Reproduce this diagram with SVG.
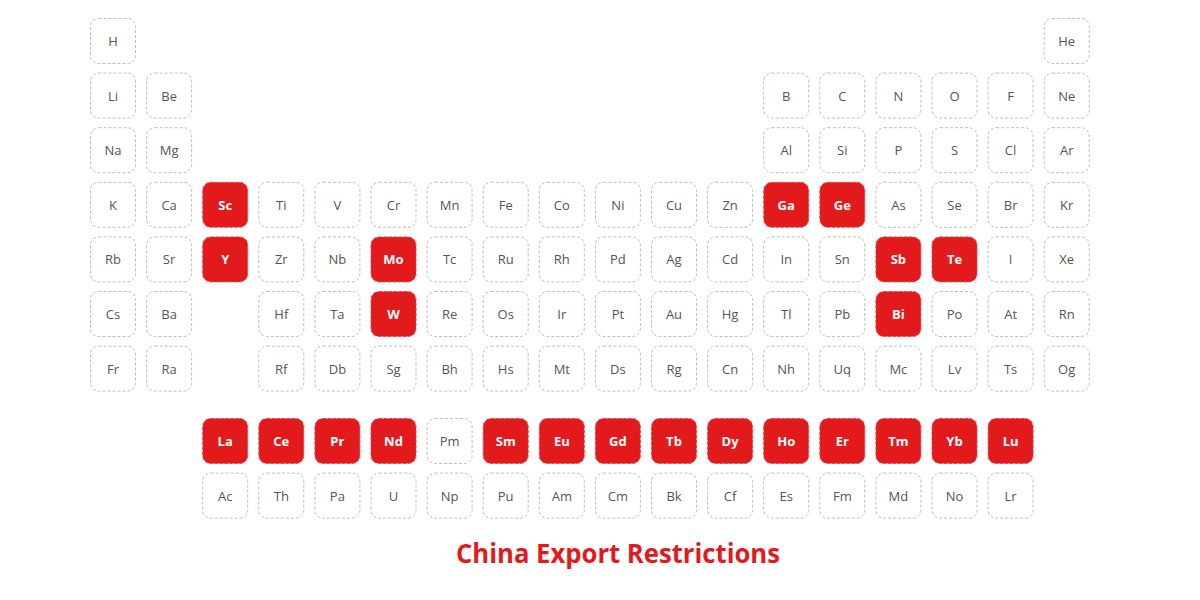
<svg xmlns="http://www.w3.org/2000/svg" width="1200" height="600" viewBox="0 0 1200 600">
<style>
.c{fill:#fff;stroke:#bdbdbd;stroke-width:1;stroke-dasharray:3 2}
.r{fill:#e31a1c;stroke:#e8474a;stroke-width:1;stroke-dasharray:3 2}
text{font-family:"Open Sans","Noto Sans","Liberation Sans",sans-serif;text-anchor:middle}
.t{font-size:13px;fill:#555}
.w{font-size:13px;fill:#fff;font-weight:bold}
.title{font-size:26px;fill:#e31a1c;font-weight:bold}
</style>
<rect width="1200" height="600" fill="#fff"/>
<g id="nodes">
<g id="H" transform="translate(90.5,18.5)"><rect class="c" width="45" height="45" rx="8"/><text class="t" x="22.5" y="27.5">H</text></g>
<g id="He" transform="translate(1044.2,18.5)"><rect class="c" width="45" height="45" rx="8"/><text class="t" x="22.5" y="27.5">He</text></g>

<g id="Li" transform="translate(90.5,73.1)"><rect class="c" width="45" height="45" rx="8"/><text class="t" x="22.5" y="27.5">Li</text></g>
<g id="Be" transform="translate(146.6,73.1)"><rect class="c" width="45" height="45" rx="8"/><text class="t" x="22.5" y="27.5">Be</text></g>
<g id="B" transform="translate(763.7,73.1)"><rect class="c" width="45" height="45" rx="8"/><text class="t" x="22.5" y="27.5">B</text></g>
<g id="C" transform="translate(819.8,73.1)"><rect class="c" width="45" height="45" rx="8"/><text class="t" x="22.5" y="27.5">C</text></g>
<g id="N" transform="translate(875.9,73.1)"><rect class="c" width="45" height="45" rx="8"/><text class="t" x="22.5" y="27.5">N</text></g>
<g id="O" transform="translate(932,73.1)"><rect class="c" width="45" height="45" rx="8"/><text class="t" x="22.5" y="27.5">O</text></g>
<g id="F" transform="translate(988.1,73.1)"><rect class="c" width="45" height="45" rx="8"/><text class="t" x="22.5" y="27.5">F</text></g>
<g id="Ne" transform="translate(1044.2,73.1)"><rect class="c" width="45" height="45" rx="8"/><text class="t" x="22.5" y="27.5">Ne</text></g>

<g id="Na" transform="translate(90.5,127.7)"><rect class="c" width="45" height="45" rx="8"/><text class="t" x="22.5" y="27.5">Na</text></g>
<g id="Mg" transform="translate(146.6,127.7)"><rect class="c" width="45" height="45" rx="8"/><text class="t" x="22.5" y="27.5">Mg</text></g>
<g id="Al" transform="translate(763.7,127.7)"><rect class="c" width="45" height="45" rx="8"/><text class="t" x="22.5" y="27.5">Al</text></g>
<g id="Si" transform="translate(819.8,127.7)"><rect class="c" width="45" height="45" rx="8"/><text class="t" x="22.5" y="27.5">Si</text></g>
<g id="P" transform="translate(875.9,127.7)"><rect class="c" width="45" height="45" rx="8"/><text class="t" x="22.5" y="27.5">P</text></g>
<g id="S" transform="translate(932,127.7)"><rect class="c" width="45" height="45" rx="8"/><text class="t" x="22.5" y="27.5">S</text></g>
<g id="Cl" transform="translate(988.1,127.7)"><rect class="c" width="45" height="45" rx="8"/><text class="t" x="22.5" y="27.5">Cl</text></g>
<g id="Ar" transform="translate(1044.2,127.7)"><rect class="c" width="45" height="45" rx="8"/><text class="t" x="22.5" y="27.5">Ar</text></g>

<g id="K" transform="translate(90.5,182.3)"><rect class="c" width="45" height="45" rx="8"/><text class="t" x="22.5" y="27.5">K</text></g>
<g id="Ca" transform="translate(146.6,182.3)"><rect class="c" width="45" height="45" rx="8"/><text class="t" x="22.5" y="27.5">Ca</text></g>
<g id="Sc" transform="translate(202.7,182.3)"><rect class="r" width="45" height="45" rx="8"/><text class="w" x="22.5" y="27.5">Sc</text></g>
<g id="Ti" transform="translate(258.8,182.3)"><rect class="c" width="45" height="45" rx="8"/><text class="t" x="22.5" y="27.5">Ti</text></g>
<g id="V" transform="translate(314.9,182.3)"><rect class="c" width="45" height="45" rx="8"/><text class="t" x="22.5" y="27.5">V</text></g>
<g id="Cr" transform="translate(371,182.3)"><rect class="c" width="45" height="45" rx="8"/><text class="t" x="22.5" y="27.5">Cr</text></g>
<g id="Mn" transform="translate(427.1,182.3)"><rect class="c" width="45" height="45" rx="8"/><text class="t" x="22.5" y="27.5">Mn</text></g>
<g id="Fe" transform="translate(483.2,182.3)"><rect class="c" width="45" height="45" rx="8"/><text class="t" x="22.5" y="27.5">Fe</text></g>
<g id="Co" transform="translate(539.3,182.3)"><rect class="c" width="45" height="45" rx="8"/><text class="t" x="22.5" y="27.5">Co</text></g>
<g id="Ni" transform="translate(595.4,182.3)"><rect class="c" width="45" height="45" rx="8"/><text class="t" x="22.5" y="27.5">Ni</text></g>
<g id="Cu" transform="translate(651.5,182.3)"><rect class="c" width="45" height="45" rx="8"/><text class="t" x="22.5" y="27.5">Cu</text></g>
<g id="Zn" transform="translate(707.6,182.3)"><rect class="c" width="45" height="45" rx="8"/><text class="t" x="22.5" y="27.5">Zn</text></g>
<g id="Ga" transform="translate(763.7,182.3)"><rect class="r" width="45" height="45" rx="8"/><text class="w" x="22.5" y="27.5">Ga</text></g>
<g id="Ge" transform="translate(819.8,182.3)"><rect class="r" width="45" height="45" rx="8"/><text class="w" x="22.5" y="27.5">Ge</text></g>
<g id="As" transform="translate(875.9,182.3)"><rect class="c" width="45" height="45" rx="8"/><text class="t" x="22.5" y="27.5">As</text></g>
<g id="Se" transform="translate(932,182.3)"><rect class="c" width="45" height="45" rx="8"/><text class="t" x="22.5" y="27.5">Se</text></g>
<g id="Br" transform="translate(988.1,182.3)"><rect class="c" width="45" height="45" rx="8"/><text class="t" x="22.5" y="27.5">Br</text></g>
<g id="Kr" transform="translate(1044.2,182.3)"><rect class="c" width="45" height="45" rx="8"/><text class="t" x="22.5" y="27.5">Kr</text></g>

<g id="Rb" transform="translate(90.5,236.9)"><rect class="c" width="45" height="45" rx="8"/><text class="t" x="22.5" y="27.5">Rb</text></g>
<g id="Sr" transform="translate(146.6,236.9)"><rect class="c" width="45" height="45" rx="8"/><text class="t" x="22.5" y="27.5">Sr</text></g>
<g id="Y" transform="translate(202.7,236.9)"><rect class="r" width="45" height="45" rx="8"/><text class="w" x="22.5" y="27.5">Y</text></g>
<g id="Zr" transform="translate(258.8,236.9)"><rect class="c" width="45" height="45" rx="8"/><text class="t" x="22.5" y="27.5">Zr</text></g>
<g id="Nb" transform="translate(314.9,236.9)"><rect class="c" width="45" height="45" rx="8"/><text class="t" x="22.5" y="27.5">Nb</text></g>
<g id="Mo" transform="translate(371,236.9)"><rect class="r" width="45" height="45" rx="8"/><text class="w" x="22.5" y="27.5">Mo</text></g>
<g id="Tc" transform="translate(427.1,236.9)"><rect class="c" width="45" height="45" rx="8"/><text class="t" x="22.5" y="27.5">Tc</text></g>
<g id="Ru" transform="translate(483.2,236.9)"><rect class="c" width="45" height="45" rx="8"/><text class="t" x="22.5" y="27.5">Ru</text></g>
<g id="Rh" transform="translate(539.3,236.9)"><rect class="c" width="45" height="45" rx="8"/><text class="t" x="22.5" y="27.5">Rh</text></g>
<g id="Pd" transform="translate(595.4,236.9)"><rect class="c" width="45" height="45" rx="8"/><text class="t" x="22.5" y="27.5">Pd</text></g>
<g id="Ag" transform="translate(651.5,236.9)"><rect class="c" width="45" height="45" rx="8"/><text class="t" x="22.5" y="27.5">Ag</text></g>
<g id="Cd" transform="translate(707.6,236.9)"><rect class="c" width="45" height="45" rx="8"/><text class="t" x="22.5" y="27.5">Cd</text></g>
<g id="In" transform="translate(763.7,236.9)"><rect class="c" width="45" height="45" rx="8"/><text class="t" x="22.5" y="27.5">In</text></g>
<g id="Sn" transform="translate(819.8,236.9)"><rect class="c" width="45" height="45" rx="8"/><text class="t" x="22.5" y="27.5">Sn</text></g>
<g id="Sb" transform="translate(875.9,236.9)"><rect class="r" width="45" height="45" rx="8"/><text class="w" x="22.5" y="27.5">Sb</text></g>
<g id="Te" transform="translate(932,236.9)"><rect class="r" width="45" height="45" rx="8"/><text class="w" x="22.5" y="27.5">Te</text></g>
<g id="I" transform="translate(988.1,236.9)"><rect class="c" width="45" height="45" rx="8"/><text class="t" x="22.5" y="27.5">I</text></g>
<g id="Xe" transform="translate(1044.2,236.9)"><rect class="c" width="45" height="45" rx="8"/><text class="t" x="22.5" y="27.5">Xe</text></g>

<g id="Cs" transform="translate(90.5,291.5)"><rect class="c" width="45" height="45" rx="8"/><text class="t" x="22.5" y="27.5">Cs</text></g>
<g id="Ba" transform="translate(146.6,291.5)"><rect class="c" width="45" height="45" rx="8"/><text class="t" x="22.5" y="27.5">Ba</text></g>
<g id="Hf" transform="translate(258.8,291.5)"><rect class="c" width="45" height="45" rx="8"/><text class="t" x="22.5" y="27.5">Hf</text></g>
<g id="Ta" transform="translate(314.9,291.5)"><rect class="c" width="45" height="45" rx="8"/><text class="t" x="22.5" y="27.5">Ta</text></g>
<g id="W" transform="translate(371,291.5)"><rect class="r" width="45" height="45" rx="8"/><text class="w" x="22.5" y="27.5">W</text></g>
<g id="Re" transform="translate(427.1,291.5)"><rect class="c" width="45" height="45" rx="8"/><text class="t" x="22.5" y="27.5">Re</text></g>
<g id="Os" transform="translate(483.2,291.5)"><rect class="c" width="45" height="45" rx="8"/><text class="t" x="22.5" y="27.5">Os</text></g>
<g id="Ir" transform="translate(539.3,291.5)"><rect class="c" width="45" height="45" rx="8"/><text class="t" x="22.5" y="27.5">Ir</text></g>
<g id="Pt" transform="translate(595.4,291.5)"><rect class="c" width="45" height="45" rx="8"/><text class="t" x="22.5" y="27.5">Pt</text></g>
<g id="Au" transform="translate(651.5,291.5)"><rect class="c" width="45" height="45" rx="8"/><text class="t" x="22.5" y="27.5">Au</text></g>
<g id="Hg" transform="translate(707.6,291.5)"><rect class="c" width="45" height="45" rx="8"/><text class="t" x="22.5" y="27.5">Hg</text></g>
<g id="Tl" transform="translate(763.7,291.5)"><rect class="c" width="45" height="45" rx="8"/><text class="t" x="22.5" y="27.5">Tl</text></g>
<g id="Pb" transform="translate(819.8,291.5)"><rect class="c" width="45" height="45" rx="8"/><text class="t" x="22.5" y="27.5">Pb</text></g>
<g id="Bi" transform="translate(875.9,291.5)"><rect class="r" width="45" height="45" rx="8"/><text class="w" x="22.5" y="27.5">Bi</text></g>
<g id="Po" transform="translate(932,291.5)"><rect class="c" width="45" height="45" rx="8"/><text class="t" x="22.5" y="27.5">Po</text></g>
<g id="At" transform="translate(988.1,291.5)"><rect class="c" width="45" height="45" rx="8"/><text class="t" x="22.5" y="27.5">At</text></g>
<g id="Rn" transform="translate(1044.2,291.5)"><rect class="c" width="45" height="45" rx="8"/><text class="t" x="22.5" y="27.5">Rn</text></g>

<g id="Fr" transform="translate(90.5,346.1)"><rect class="c" width="45" height="45" rx="8"/><text class="t" x="22.5" y="27.5">Fr</text></g>
<g id="Ra" transform="translate(146.6,346.1)"><rect class="c" width="45" height="45" rx="8"/><text class="t" x="22.5" y="27.5">Ra</text></g>
<g id="Rf" transform="translate(258.8,346.1)"><rect class="c" width="45" height="45" rx="8"/><text class="t" x="22.5" y="27.5">Rf</text></g>
<g id="Db" transform="translate(314.9,346.1)"><rect class="c" width="45" height="45" rx="8"/><text class="t" x="22.5" y="27.5">Db</text></g>
<g id="Sg" transform="translate(371,346.1)"><rect class="c" width="45" height="45" rx="8"/><text class="t" x="22.5" y="27.5">Sg</text></g>
<g id="Bh" transform="translate(427.1,346.1)"><rect class="c" width="45" height="45" rx="8"/><text class="t" x="22.5" y="27.5">Bh</text></g>
<g id="Hs" transform="translate(483.2,346.1)"><rect class="c" width="45" height="45" rx="8"/><text class="t" x="22.5" y="27.5">Hs</text></g>
<g id="Mt" transform="translate(539.3,346.1)"><rect class="c" width="45" height="45" rx="8"/><text class="t" x="22.5" y="27.5">Mt</text></g>
<g id="Ds" transform="translate(595.4,346.1)"><rect class="c" width="45" height="45" rx="8"/><text class="t" x="22.5" y="27.5">Ds</text></g>
<g id="Rg" transform="translate(651.5,346.1)"><rect class="c" width="45" height="45" rx="8"/><text class="t" x="22.5" y="27.5">Rg</text></g>
<g id="Cn" transform="translate(707.6,346.1)"><rect class="c" width="45" height="45" rx="8"/><text class="t" x="22.5" y="27.5">Cn</text></g>
<g id="Nh" transform="translate(763.7,346.1)"><rect class="c" width="45" height="45" rx="8"/><text class="t" x="22.5" y="27.5">Nh</text></g>
<g id="Uq" transform="translate(819.8,346.1)"><rect class="c" width="45" height="45" rx="8"/><text class="t" x="22.5" y="27.5">Uq</text></g>
<g id="Mc" transform="translate(875.9,346.1)"><rect class="c" width="45" height="45" rx="8"/><text class="t" x="22.5" y="27.5">Mc</text></g>
<g id="Lv" transform="translate(932,346.1)"><rect class="c" width="45" height="45" rx="8"/><text class="t" x="22.5" y="27.5">Lv</text></g>
<g id="Ts" transform="translate(988.1,346.1)"><rect class="c" width="45" height="45" rx="8"/><text class="t" x="22.5" y="27.5">Ts</text></g>
<g id="Og" transform="translate(1044.2,346.1)"><rect class="c" width="45" height="45" rx="8"/><text class="t" x="22.5" y="27.5">Og</text></g>

<g id="La" transform="translate(202.7,418.5)"><rect class="r" width="45" height="45" rx="8"/><text class="w" x="22.5" y="27.5">La</text></g>
<g id="Ce" transform="translate(258.8,418.5)"><rect class="r" width="45" height="45" rx="8"/><text class="w" x="22.5" y="27.5">Ce</text></g>
<g id="Pr" transform="translate(314.9,418.5)"><rect class="r" width="45" height="45" rx="8"/><text class="w" x="22.5" y="27.5">Pr</text></g>
<g id="Nd" transform="translate(371,418.5)"><rect class="r" width="45" height="45" rx="8"/><text class="w" x="22.5" y="27.5">Nd</text></g>
<g id="Pm" transform="translate(427.1,418.5)"><rect class="c" width="45" height="45" rx="8"/><text class="t" x="22.5" y="27.5">Pm</text></g>
<g id="Sm" transform="translate(483.2,418.5)"><rect class="r" width="45" height="45" rx="8"/><text class="w" x="22.5" y="27.5">Sm</text></g>
<g id="Eu" transform="translate(539.3,418.5)"><rect class="r" width="45" height="45" rx="8"/><text class="w" x="22.5" y="27.5">Eu</text></g>
<g id="Gd" transform="translate(595.4,418.5)"><rect class="r" width="45" height="45" rx="8"/><text class="w" x="22.5" y="27.5">Gd</text></g>
<g id="Tb" transform="translate(651.5,418.5)"><rect class="r" width="45" height="45" rx="8"/><text class="w" x="22.5" y="27.5">Tb</text></g>
<g id="Dy" transform="translate(707.6,418.5)"><rect class="r" width="45" height="45" rx="8"/><text class="w" x="22.5" y="27.5">Dy</text></g>
<g id="Ho" transform="translate(763.7,418.5)"><rect class="r" width="45" height="45" rx="8"/><text class="w" x="22.5" y="27.5">Ho</text></g>
<g id="Er" transform="translate(819.8,418.5)"><rect class="r" width="45" height="45" rx="8"/><text class="w" x="22.5" y="27.5">Er</text></g>
<g id="Tm" transform="translate(875.9,418.5)"><rect class="r" width="45" height="45" rx="8"/><text class="w" x="22.5" y="27.5">Tm</text></g>
<g id="Yb" transform="translate(932,418.5)"><rect class="r" width="45" height="45" rx="8"/><text class="w" x="22.5" y="27.5">Yb</text></g>
<g id="Lu" transform="translate(988.1,418.5)"><rect class="r" width="45" height="45" rx="8"/><text class="w" x="22.5" y="27.5">Lu</text></g>

<g id="Ac" transform="translate(202.7,473.1)"><rect class="c" width="45" height="45" rx="8"/><text class="t" x="22.5" y="27.5">Ac</text></g>
<g id="Th" transform="translate(258.8,473.1)"><rect class="c" width="45" height="45" rx="8"/><text class="t" x="22.5" y="27.5">Th</text></g>
<g id="Pa" transform="translate(314.9,473.1)"><rect class="c" width="45" height="45" rx="8"/><text class="t" x="22.5" y="27.5">Pa</text></g>
<g id="U" transform="translate(371,473.1)"><rect class="c" width="45" height="45" rx="8"/><text class="t" x="22.5" y="27.5">U</text></g>
<g id="Np" transform="translate(427.1,473.1)"><rect class="c" width="45" height="45" rx="8"/><text class="t" x="22.5" y="27.5">Np</text></g>
<g id="Pu" transform="translate(483.2,473.1)"><rect class="c" width="45" height="45" rx="8"/><text class="t" x="22.5" y="27.5">Pu</text></g>
<g id="Am" transform="translate(539.3,473.1)"><rect class="c" width="45" height="45" rx="8"/><text class="t" x="22.5" y="27.5">Am</text></g>
<g id="Cm" transform="translate(595.4,473.1)"><rect class="c" width="45" height="45" rx="8"/><text class="t" x="22.5" y="27.5">Cm</text></g>
<g id="Bk" transform="translate(651.5,473.1)"><rect class="c" width="45" height="45" rx="8"/><text class="t" x="22.5" y="27.5">Bk</text></g>
<g id="Cf" transform="translate(707.6,473.1)"><rect class="c" width="45" height="45" rx="8"/><text class="t" x="22.5" y="27.5">Cf</text></g>
<g id="Es" transform="translate(763.7,473.1)"><rect class="c" width="45" height="45" rx="8"/><text class="t" x="22.5" y="27.5">Es</text></g>
<g id="Fm" transform="translate(819.8,473.1)"><rect class="c" width="45" height="45" rx="8"/><text class="t" x="22.5" y="27.5">Fm</text></g>
<g id="Md" transform="translate(875.9,473.1)"><rect class="c" width="45" height="45" rx="8"/><text class="t" x="22.5" y="27.5">Md</text></g>
<g id="No" transform="translate(932,473.1)"><rect class="c" width="45" height="45" rx="8"/><text class="t" x="22.5" y="27.5">No</text></g>
<g id="Lr" transform="translate(988.1,473.1)"><rect class="c" width="45" height="45" rx="8"/><text class="t" x="22.5" y="27.5">Lr</text></g>
</g>
<g id="connectors"/>
<text class="title" x="618" y="563" textLength="324" lengthAdjust="spacingAndGlyphs">China Export Restrictions</text>
</svg>
